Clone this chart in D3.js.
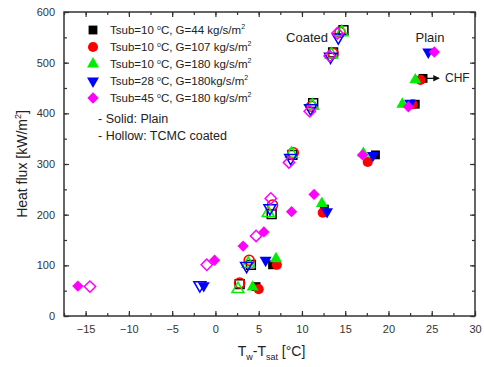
<!DOCTYPE html>
<html>
<head>
<meta charset="utf-8">
<script src="https://cdn.jsdelivr.net/npm/d3@7"></script>
<style>
  body { margin: 0; background: #fff; }
  svg text { font-family: Arial, "Liberation Sans", sans-serif; }
</style>
</head>
<body>
<div id="chart"></div>
<script>
// series definitions: label, colour, shape
const seriesNames = [
  "Tsub=10 °C, G=44 kg/s/m2",
  "Tsub=10 °C, G=107 kg/s/m2",
  "Tsub=10 °C, G=180 kg/s/m2",
  "Tsub=28 °C, G=180kg/s/m2",
  "Tsub=45 °C, G=180 kg/s/m2"
];
const seriesColors = ["#000000", "#ff0000", "#00ee00", "#0000ff", "#ff00ff"];
const seriesShapes = ["square", "circle", "triangle", "triangleDown", "diamond"];

// [dT, q] pairs; plain = solid, coated = hollow
const plain44 = [[4.7,58],[6.6,101],[12.6,211],[18.5,318],[23.1,418],[24.0,469]];
const coated44 = [[2.8,63],[4.1,101],[6.5,201],[8.9,318],[11.3,420],[13.6,520],[14.8,564]];
const plain107 = [[5.0,53],[7.1,101],[12.4,204],[17.6,304],[22.8,418],[23.7,466]];
const coated107 = [[2.8,65],[3.9,110],[6.6,219],[9.0,322],[11.1,414],[13.6,518],[14.4,560]];
const plain180 = [[4.3,57],[7.0,113],[12.3,222],[17.1,321],[21.6,418],[23.1,466]];
const coated180 = [[2.6,53],[3.8,103],[6.1,203],[8.8,320],[11.2,415],[13.4,516],[14.6,560]];
const plain28 = [[-1.35,60],[5.8,110],[12.9,206],[18.2,317],[22.5,420],[24.6,521]];
const coated28 = [[-1.8,61],[3.6,99],[6.3,213],[8.7,312],[11.0,410],[13.3,512],[14.2,550]];
const plain45 = [[-15.9,59],[-0.1,110],[3.2,138],[5.6,166],[8.8,206],[11.4,240],[17.0,318],[22.3,413],[25.3,521]];
const coated45 = [[-14.5,58],[-1.0,101],[4.7,158],[6.4,232],[8.5,303],[10.9,404],[13.2,513],[14.1,558]];

const plainData = [plain44, plain107, plain180, plain28, plain45];
const coatedData = [coated44, coated107, coated180, coated28, coated45];

const xTicks = [-15, -10, -5, 0, 5, 10, 15, 20, 25, 30];
const yTicks = [0, 100, 200, 300, 400, 500, 600];

const W = 484, H = 367;
const margin = {top: 12, right: 9, bottom: 51, left: 64};

const svg = d3.select("#chart").append("svg")
  .attr("width", W).attr("height", H);

const x = d3.scaleLinear().domain([-17.5, 30]).range([margin.left, W - margin.right]);
const y = d3.scaleLinear().domain([0, 600]).range([H - margin.bottom, margin.top]);

const axisColor = "#333";

/** symbol path generator */
function shapePath(shape) {
  if (shape === "square") return d3.symbol(d3.symbolSquare, 78)();
  if (shape === "circle") return d3.symbol(d3.symbolCircle, 80)();
  if (shape === "triangle" || shape === "triangleDown") return d3.symbol(d3.symbolTriangle, 62)();
  return d3.symbol(d3.symbolSquare, 64)();
}
function shapeRotate(shape) {
  if (shape === "triangleDown") return 180;
  if (shape === "diamond") return 45;
  return 0;
}

/** Axes with inward ticks on all four sides */
const minorX = d3.range(-17.5, 30.01, 2.5);
const minorY = d3.range(0, 600.1, 50);

function addAxis(axis, tr) {
  const g = svg.append("g").attr("transform", tr).call(axis);
  g.select(".domain").remove();
  g.selectAll("line").attr("stroke", axisColor).attr("stroke-width", 1.2);
  g.selectAll("text").attr("fill", "#333").style("font-size", "11px");
  return g;
}
// bottom
addAxis(d3.axisBottom(x).tickValues(minorX).tickSize(-3).tickFormat(""), `translate(0,${y(0)})`);
addAxis(d3.axisBottom(x).tickValues(xTicks).tickSizeInner(-5).tickSizeOuter(0).tickPadding(9).tickFormat(d3.format("d")), `translate(0,${y(0)})`);
// top
addAxis(d3.axisTop(x).tickValues(minorX).tickSize(-3).tickFormat(""), `translate(0,${y(600)})`);
addAxis(d3.axisTop(x).tickValues(xTicks).tickSize(-5).tickFormat(""), `translate(0,${y(600)})`);
// left
addAxis(d3.axisLeft(y).tickValues(minorY).tickSize(-3).tickFormat(""), `translate(${x(-17.5)},0)`);
addAxis(d3.axisLeft(y).tickValues(yTicks).tickSizeInner(-5).tickSizeOuter(0).tickPadding(9).tickFormat(d3.format("d")), `translate(${x(-17.5)},0)`);
// right
addAxis(d3.axisRight(y).tickValues(minorY).tickSize(-3).tickFormat(""), `translate(${x(30)},0)`);
addAxis(d3.axisRight(y).tickValues(yTicks).tickSize(-5).tickFormat(""), `translate(${x(30)},0)`);

// frame
svg.append("rect")
  .attr("x", x(-17.5)).attr("y", y(600))
  .attr("width", x(30) - x(-17.5)).attr("height", y(0) - y(600))
  .attr("fill", "none").attr("stroke", axisColor).attr("stroke-width", 1.5);

/** Axis titles */
const xt = svg.append("text")
  .attr("x", (x(-17.5) + x(30)) / 2 + 2).attr("y", 356)
  .attr("text-anchor", "middle").attr("fill", "#222")
  .style("font-size", "14px");
xt.append("tspan").text("T");
xt.append("tspan").text("w").attr("dy", 4).style("font-size", "9px");
xt.append("tspan").text("-T").attr("dy", -4);
xt.append("tspan").text("sat").attr("dy", 4).style("font-size", "9px");
xt.append("tspan").text(" [°C]").attr("dy", -4);

const yt = svg.append("text")
  .attr("transform", `translate(27,${(y(0) + y(600)) / 2}) rotate(-90)`)
  .attr("text-anchor", "middle").attr("fill", "#222")
  .style("font-size", "14px");
yt.append("tspan").text("Heat flux [kW/m");
yt.append("tspan").text("2").attr("dy", -6).style("font-size", "9px");
yt.append("tspan").text("]").attr("dy", 6);

/** Data points */
const plot = svg.append("g").attr("id", "points");
seriesNames.forEach((name, i) => {
  const shape = seriesShapes[i];
  plot.selectAll(null)
    .data(coatedData[i])
    .enter().append("path")
    .attr("d", shapePath(shape))
    .attr("transform", d => `translate(${x(d[0])},${y(d[1])}) rotate(${shapeRotate(shape)})`)
    .attr("fill", "none")
    .attr("stroke", seriesColors[i])
    .attr("stroke-width", 1.5);
  plot.selectAll(null)
    .data(plainData[i])
    .enter().append("path")
    .attr("d", shapePath(shape))
    .attr("transform", d => `translate(${x(d[0])},${y(d[1])}) rotate(${shapeRotate(shape)})`)
    .attr("fill", seriesColors[i]);
});

/** Legend */
const legend = svg.append("g").attr("id", "legend");
seriesNames.forEach((name, i) => {
  const ly = 30 + i * 17;
  legend.append("path")
    .attr("d", shapePath(seriesShapes[i]))
    .attr("transform", `translate(93,${ly}) rotate(${shapeRotate(seriesShapes[i])})`)
    .attr("fill", seriesColors[i]);
  const t = legend.append("text")
    .attr("x", 110).attr("y", ly + 4)
    .attr("fill", "#222").style("font-size", "11.5px");
  const parts = name.split("°");
  t.append("tspan").text(parts[0]);
  t.append("tspan").text("o").attr("dy", -4).style("font-size", "7px");
  t.append("tspan").text(parts[1].replace(/m2$/, "m")).attr("dy", 4);
  t.append("tspan").text("2").attr("dy", -5).style("font-size", "7px");
});
legend.append("text").attr("x", 98).attr("y", 123)
  .attr("fill", "#222").style("font-size", "12.5px").text("- Solid: Plain");
legend.append("text").attr("x", 98).attr("y", 140)
  .attr("fill", "#222").style("font-size", "12.5px").text("- Hollow: TCMC coated");

/** Annotations */
svg.append("text").attr("x", 307).attr("y", 42).attr("text-anchor", "middle")
  .attr("fill", "#222").style("font-size", "13px").text("Coated");
svg.append("text").attr("x", 430).attr("y", 42).attr("text-anchor", "middle")
  .attr("fill", "#222").style("font-size", "13px").text("Plain");

const chfY = y(469);
svg.append("defs").append("marker")
  .attr("id", "arr").attr("viewBox", "0 0 10 10").attr("refX", 9).attr("refY", 5)
  .attr("markerWidth", 5).attr("markerHeight", 5).attr("orient", "auto")
  .append("path").attr("d", "M0,0L10,5L0,10Z").attr("fill", "#111");
svg.append("line")
  .attr("x1", x(24.0) + 3).attr("x2", x(24.0) + 16)
  .attr("y1", chfY).attr("y2", chfY)
  .attr("stroke", "#111").attr("stroke-width", 1.3)
  .attr("marker-end", "url(#arr)");
svg.append("text").attr("x", 445).attr("y", chfY + 4)
  .attr("fill", "#222").style("font-size", "12px").text("CHF");
</script>
</body>
</html>
